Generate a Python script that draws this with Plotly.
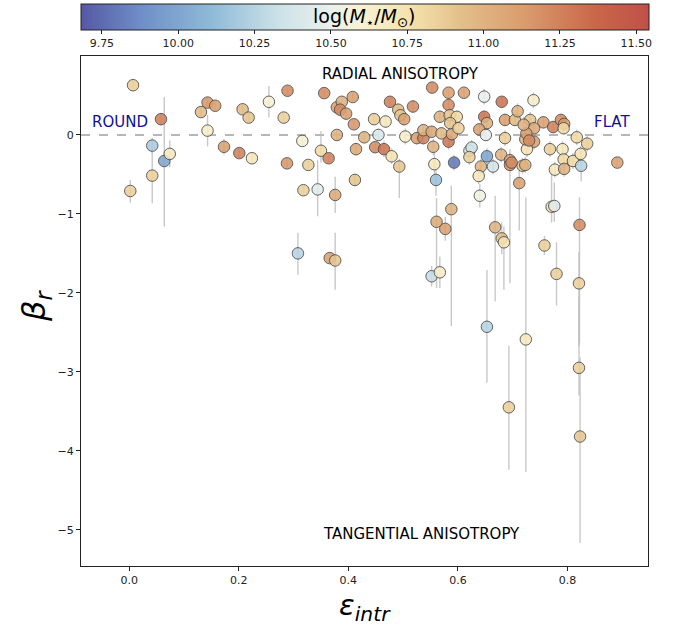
import plotly.graph_objects as go

# ---------------- data ----------------
eps = [0.007, 0.058, 0.064, 0.042, 0.042, 0.074, 0.002, 0.143, 0.143, 0.131,
       0.157, 0.173, 0.207, 0.218, 0.201, 0.224, 0.255, 0.289, 0.282, 0.288,
       0.316, 0.327, 0.350, 0.344, 0.364, 0.356, 0.379, 0.388, 0.385, 0.396,
       0.408, 0.410, 0.379, 0.414, 0.412, 0.318, 0.376, 0.429, 0.447, 0.455,
       0.468, 0.449, 0.465, 0.476, 0.308, 0.366, 0.376, 0.479, 0.493, 0.491,
       0.495, 0.502, 0.518, 0.504, 0.525, 0.537, 0.537, 0.552, 0.570, 0.555,
       0.583, 0.589, 0.553, 0.583, 0.611, 0.648, 0.680, 0.583, 0.567, 0.585,
       0.598, 0.586, 0.601, 0.648, 0.653, 0.639, 0.651, 0.686, 0.704, 0.686,
       0.621, 0.625, 0.621, 0.593, 0.653, 0.557, 0.560, 0.642, 0.664, 0.638,
       0.679, 0.695, 0.695, 0.640, 0.588, 0.561, 0.577, 0.552, 0.567, 0.668,
       0.680, 0.684, 0.712, 0.758, 0.771, 0.776, 0.780, 0.822, 0.821, 0.891,
       0.817, 0.836, 0.791, 0.768, 0.793, 0.810, 0.824, 0.825, 0.777, 0.794,
       0.718, 0.723, 0.756, 0.774, 0.788, 0.794, 0.738, 0.709, 0.732, 0.739,
       0.739, 0.726, 0.723, 0.793, 0.725, 0.730, 0.698, 0.653, 0.724, 0.693,
       0.821, 0.823, 0.720]
beta = [0.63, 0.20, -0.33, -0.135, -0.515, -0.24, -0.71, 0.055, 0.41, 0.29,
        0.37, -0.15, 0.325, 0.22, -0.23, -0.295, 0.42, 0.56, 0.22, -0.36,
        -0.076, -0.38, -0.20, -0.69, -0.295, 0.53, 0.35, 0.42, 0.32, 0.27,
        0.48, 0.135, 0.00, -0.18, -0.57, -0.70, -0.76, -0.03, 0.20, 0.00,
        0.17, -0.155, -0.18, 0.42, -1.50, -1.56, -1.59, -0.27, -0.40, 0.32,
        0.25, 0.20, 0.36, -0.02, -0.04, -0.04, 0.06, 0.04, 0.02, -0.15,
        -0.085, 0.01, 0.60, 0.535, 0.535, 0.485, 0.42, 0.38, 0.23, 0.25,
        0.23, 0.15, 0.085, 0.23, 0.15, 0.07, 0.00, 0.19, 0.19, -0.04,
        -0.20, -0.16, -0.28, -0.35, -0.27, -0.37, -0.57, -0.40, -0.40, -0.52,
        -0.25, -0.32, -0.38, -0.77, -0.94, -1.10, -1.19, -1.79, -1.74, -1.17,
        -1.31, -1.36, -0.61, -1.40, -0.91, -0.90, -1.76, -1.14, -1.88, -0.35,
        -0.03, -0.11, -0.18, -0.18, -0.31, -0.33, -0.24, -0.39, -0.44, -0.43,
        -0.39, -0.38, 0.16, 0.10, 0.19, 0.14, 0.44, 0.30, 0.19, 0.085,
        -0.085, -0.18, -0.055, 0.085, 0.02, -0.07, -0.35, -2.43, -2.59, -3.45,
        -2.95, -3.82, 0.13]
logm = [10.85, 11.25, 10.00, 10.20, 10.85, 10.70, 10.85, 10.65, 11.15, 10.95,
        11.10, 11.10, 10.95, 10.90, 11.25, 10.70, 10.60, 11.20, 10.85, 11.15,
        10.60, 10.85, 10.80, 10.45, 11.25, 11.20, 11.10, 11.00, 11.20, 11.10,
        11.10, 11.15, 11.00, 11.05, 10.90, 10.85, 11.05, 11.00, 10.85, 10.40,
        10.70, 11.20, 11.30, 11.25, 10.25, 11.10, 10.90, 10.75, 10.90, 10.95,
        10.90, 11.10, 11.20, 10.65, 11.10, 11.25, 11.00, 11.05, 10.95, 11.00,
        11.30, 11.05, 11.20, 11.10, 11.10, 10.50, 11.30, 11.20, 11.00, 10.90,
        10.80, 10.90, 10.85, 11.30, 11.00, 11.10, 10.50, 11.10, 10.95, 10.85,
        10.40, 10.35, 10.85, 9.80, 10.00, 10.70, 10.15, 11.00, 10.35, 10.70,
        11.00, 11.10, 11.20, 10.55, 11.00, 11.05, 11.10, 10.30, 10.65, 11.00,
        10.95, 10.75, 11.10, 10.85, 10.80, 10.45, 10.85, 11.20, 10.85, 11.10,
        10.80, 10.85, 10.70, 10.85, 10.80, 10.80, 10.75, 10.25, 10.70, 11.00,
        10.90, 11.00, 11.10, 11.25, 11.20, 11.15, 10.65, 11.00, 10.90, 11.05,
        11.10, 10.75, 11.00, 10.80, 11.10, 11.20, 11.20, 10.25, 10.70, 10.85,
        10.85, 10.90, 11.00]
err_lo = [0.06, 0.08, 0.83, 0.10, 0.35, 0.17, 0.15, 0.20, 0.06, 0.06,
          0.06, 0.10, 0.05, 0.05, 0.06, 0.05, 0.20, 0.06, 0.06, 0.06,
          0.06, 0.05, 0.15, 0.34, 0.05, 0.05, 0.06, 0.06, 0.06, 0.06,
          0.06, 0.06, 0.06, 0.08, 0.08, 0.06, 0.23, 0.06, 0.06, 0.08,
          0.08, 0.07, 0.10, 0.07, 0.27, 0.06, 0.37, 0.10, 0.40, 0.08,
          0.08, 0.08, 0.08, 0.10, 0.08, 0.08, 0.08, 0.08, 0.08, 0.10,
          0.10, 0.08, 0.06, 0.06, 0.06, 0.10, 0.06, 0.08, 0.08, 0.08,
          0.08, 0.08, 0.08, 0.08, 0.08, 0.08, 0.08, 0.08, 0.08, 0.10,
          0.10, 0.10, 0.10, 0.10, 0.10, 0.15, 0.20, 0.10, 0.10, 0.10,
          0.10, 0.10, 1.50, 0.15, 1.48, 0.84, 0.15, 0.13, 0.20, 0.94,
          0.20, 0.60, 0.60, 0.12, 0.20, 0.20, 0.40, 1.50, 0.80, 0.05,
          0.10, 0.10, 0.10, 0.10, 0.15, 0.10, 0.10, 0.20, 0.10, 0.10,
          0.10, 0.10, 0.08, 0.08, 0.08, 0.08, 0.10, 0.10, 0.10, 0.10,
          0.10, 0.10, 0.10, 0.08, 0.10, 0.10, 0.10, 0.71, 1.68, 0.79,
          0.35, 1.35, 0.10]
err_hi = [0.06, 0.08, 0.81, 0.10, 0.37, 0.17, 0.14, 0.20, 0.06, 0.06,
          0.06, 0.10, 0.05, 0.05, 0.06, 0.05, 0.20, 0.06, 0.06, 0.06,
          0.06, 0.05, 0.25, 0.37, 0.05, 0.05, 0.06, 0.06, 0.06, 0.06,
          0.06, 0.06, 0.06, 0.08, 0.08, 0.06, 0.23, 0.06, 0.06, 0.08,
          0.08, 0.07, 0.10, 0.07, 0.26, 0.06, 0.35, 0.10, 0.10, 0.08,
          0.08, 0.08, 0.08, 0.10, 0.08, 0.08, 0.08, 0.08, 0.08, 0.10,
          0.10, 0.08, 0.06, 0.06, 0.06, 0.10, 0.06, 0.08, 0.08, 0.08,
          0.08, 0.08, 0.08, 0.08, 0.08, 0.08, 0.08, 0.08, 0.08, 0.10,
          0.10, 0.10, 0.10, 0.10, 0.10, 0.15, 0.20, 0.10, 0.10, 0.10,
          0.10, 0.10, 0.20, 0.15, 0.30, 0.30, 0.15, 0.13, 0.20, 0.40,
          0.20, 0.20, 0.20, 0.12, 0.50, 0.30, 0.40, 0.35, 0.40, 0.05,
          0.10, 0.10, 0.10, 0.10, 0.15, 0.10, 0.10, 0.20, 0.10, 0.10,
          0.10, 0.10, 0.08, 0.08, 0.08, 0.08, 0.10, 0.10, 0.10, 0.10,
          0.10, 0.10, 0.10, 0.08, 0.10, 0.10, 0.10, 0.72, 1.80, 0.78,
          0.90, 1.00, 0.10]

cbar_ticks = [9.75, 10.00, 10.25, 10.50, 10.75, 11.00, 11.25, 11.50]
x_ticks = [0.0, 0.2, 0.4, 0.6, 0.8]
y_ticks = [0, -1, -2, -3, -4, -5]

# ---------------- style ----------------
colorscale = [
    [0.000, "#5558a5"], [0.110, "#7090c8"], [0.230, "#8fbad8"],
    [0.350, "#cde2e8"], [0.440, "#eaf0ee"], [0.490, "#f7f3d6"],
    [0.575, "#f5e3b0"], [0.630, "#ecd09a"], [0.667, "#e3c08a"],
    [0.785, "#d99a6c"], [0.903, "#c9684a"], [1.000, "#c05048"],
]
CMIN, CMAX = 9.68, 11.54
W, H = 687, 629
ML, MR, MT, MB = 81, 39, 56, 63
PH = H - MT - MB
PW = W - ML - MR

fig = go.Figure()

fig.add_trace(go.Scatter(
    x=eps, y=beta, mode="markers",
    error_y=dict(type="data", symmetric=False, array=err_hi, arrayminus=err_lo,
                 color="rgba(190,190,190,0.85)", thickness=1.4, width=0),
    marker=dict(size=11.5, color=logm, colorscale=colorscale, cmin=CMIN, cmax=CMAX,
                opacity=0.88, line=dict(color="#4d4d4d", width=1),
                colorbar=dict(
                    orientation="h", x=0.5, xanchor="center",
                    y=1 + (MT - 4) / PH, yanchor="top",
                    lenmode="pixels", len=568, thickness=26,
                    xpad=0, ypad=0,
                    outlinecolor="#222", outlinewidth=1,
                    tickvals=cbar_ticks, ticktext=[f"{v:.2f}" for v in cbar_ticks],
                    ticks="outside", ticklen=4, tickcolor="#222",
                    tickfont=dict(family="DejaVu Sans", size=11, color="#222"),
                )),
    showlegend=False, hoverinfo="skip",
))

fig.add_shape(type="line", xref="paper", yref="y", x0=0, x1=1, y0=0, y1=0,
              line=dict(color="#a0a0a0", width=1.5, dash="dash"), layer="below")

font_txt = dict(family="DejaVu Sans", size=15, color="black")
font_blue = dict(family="DejaVu Sans", size=15, color="#1010a0")
for xx, yy, tt, ff in [(0.495, 0.77, "RADIAL ANISOTROPY", font_txt),
                       (0.533, -5.05, "TANGENTIAL ANISOTROPY", font_txt),
                       (-0.016, 0.165, "ROUND", font_blue),
                       (0.881, 0.165, "FLAT", font_blue)]:
    fig.add_annotation(x=xx, y=yy, text=tt, showarrow=False, font=ff,
                       xanchor="center", yanchor="middle")

# colorbar label inside the bar
fig.add_annotation(xref="paper", yref="paper", x=0.5, y=1 + (MT - 17) / PH,
                   xanchor="center", yanchor="middle",
                   text="log(<i>M</i><sub>⋆</sub>/<i>M</i><sub>⊙</sub>)",
                   showarrow=False, font=dict(family="DejaVu Sans", size=19, color="black"))

# axis titles
fig.add_annotation(xref="paper", yref="paper", x=0.5, y=-(607 - (MT + PH)) / PH,
                   xanchor="center", yanchor="middle",
                   text="<i>ε</i><sub><i>intr</i></sub>", showarrow=False,
                   font=dict(family="DejaVu Sans", size=29, color="black"))
fig.add_annotation(xref="paper", yref="paper", x=-(ML - 36) / PW,
                   y=(MT + PH - 306) / PH, xanchor="center", yanchor="middle",
                   text="<i>β</i><sub><i>r</i></sub>", showarrow=False, textangle=-90,
                   font=dict(family="DejaVu Sans", size=32, color="black"))

axis_common = dict(showgrid=False, zeroline=False, showline=True, linecolor="#222",
                   linewidth=1, mirror=True, ticks="outside", ticklen=4,
                   tickcolor="#222", tickfont=dict(family="DejaVu Sans", size=11, color="#222"))
fig.update_xaxes(range=[-0.088, 0.947], tickvals=x_ticks,
                 ticktext=[f"{v:.1f}" for v in x_ticks], **axis_common)
fig.update_yaxes(range=[-5.46, 1.0], tickvals=y_ticks,
                 ticktext=[("−" if v < 0 else "") + str(abs(v)) for v in y_ticks], **axis_common)

fig.update_layout(width=W, height=H, plot_bgcolor="white", paper_bgcolor="white",
                  margin=dict(l=ML, r=MR, t=MT, b=MB, autoexpand=False))

fig.write_html("out.html")
